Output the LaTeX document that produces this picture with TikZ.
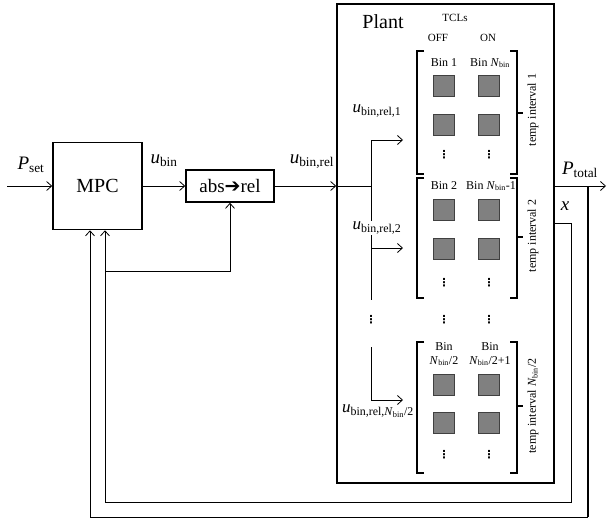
\documentclass[tikz,border=0pt]{standalone}
\usepackage{fontspec}
\setmainfont{Liberation Serif}
\newfontfamily\symfont{DejaVu Sans}
\usetikzlibrary{arrows.meta, positioning}
\newcommand{\sig}[2]{\textit{#1}\textsubscript{#2}}

\begin{document}
\begin{tikzpicture}[x=1pt, y=-1pt,
  block/.style={draw, line width=1.6pt, align=center, inner sep=0pt},
  cell/.style={draw=black!75, fill=black!50, minimum size=21pt, inner sep=0pt, line width=0.7pt},
  arr/.style={-{Straight Barb[length=5pt,width=9pt]}, line width=0.8pt},
  wire/.style={line width=0.8pt},
  brk/.style={line width=2.2pt},
  lbl/.style={font=\fontsize{19}{21}\selectfont, inner sep=1pt},
  small/.style={font=\fontsize{12}{13}\selectfont, inner sep=1pt, align=center},
  tiny/.style={font=\fontsize{11}{12}\selectfont, inner sep=1pt},
  vdot/.style={font=\symfont\fontsize{11}{11}\selectfont\bfseries, inner sep=0pt}
]
  \useasboundingbox (0,0) rectangle (610,520);

  % ----- Blocks -----
  \node[block, minimum width=89pt, minimum height=87pt, font=\fontsize{20}{22}\selectfont] (mpc) at (97.5,186) {MPC};
  \node[block, minimum width=88pt, minimum height=32pt, font=\fontsize{19}{21}\selectfont] (abs) at (230,186) {abs{\symfont\bfseries\fontsize{19}{21}\selectfont ➔}rel};
  \node[block, minimum width=217pt, minimum height=479pt] (plant) at (445.5,243.5) {};
  \node[font=\fontsize{20}{22}\selectfont, inner sep=0pt] (plantlbl) at (383,22) {Plant};

  % ----- Signal labels -----
  \node[lbl] (pset)   at (31,165)  {\sig{P}{set}};
  \node[lbl] (ubin)   at (164,161) {\sig{u}{bin}};
  \node[lbl] (ubrel)  at (312,162) {\sig{u}{bin,rel}};
  \node[lbl] (ptot)   at (580,170) {\sig{P}{total}};
  \node[lbl] (xlbl)   at (565,206) {\textit{x}};

  % ----- TCL header -----
  \node[tiny] (tcls) at (455,18) {TCLs};
  \node[tiny] (off)  at (438,38) {OFF};
  \node[tiny] (on)   at (488,38) {ON};

  % ----- Temperature intervals (brackets) -----
  \foreach \top/\bot/\mid in {51/174/113, 178/298/237, 342/473/406} {
    \draw[brk] (424,\top) -- (417,\top) -- (417,\bot) -- (424,\bot);
    \draw[brk] (510,\top) -- (517,\top) -- (517,\bot) -- (510,\bot);
    \draw[brk] (517,\mid) -- (523,\mid);
  }
  \node[small, rotate=90] (ti1) at (533,110) {temp interval 1};
  \node[small, rotate=90] (ti2) at (533,236) {temp interval 2};
  \node[small, rotate=90] (ti3) at (533,406) {temp interval \sig{N}{bin}/2};

  % ----- Bin headers -----
  \node[small] (h1a) at (444,63)  {Bin 1};
  \node[small] (h1b) at (490,63)  {Bin \sig{N}{bin}};
  \node[small] (h2a) at (444,186) {Bin 2};
  \node[small] (h2b) at (491,186) {Bin \sig{N}{bin}-1};
  \node[small] (h3a) at (444,354) {Bin\\[1pt]\sig{N}{bin}/2};
  \node[small] (h3b) at (490,354) {Bin\\[1pt]\sig{N}{bin}/2+1};

  % ----- Bins -----
  \foreach \g/\ya/\yb/\yd in {1/86/125/155, 2/210/249/283, 3/385/423/455} {
    \node[cell] (sq\g a1) at (444,\ya) {};
    \node[cell] (sq\g b1) at (489,\ya) {};
    \node[cell] (sq\g a2) at (444,\yb) {};
    \node[cell] (sq\g b2) at (489,\yb) {};
    \node[vdot] (dt\g a) at (444,\yd) {⋮};
    \node[vdot] (dt\g b) at (489,\yd) {⋮};
  }
  \node[vdot] (dtma) at (444,320) {⋮};
  \node[vdot] (dtmb) at (489,320) {⋮};
  \node[vdot] (dtms) at (371,320) {⋮};

  % ----- Forward path -----
  \coordinate (pin)  at (7,186);
  \coordinate (pout) at (606,186);
  \coordinate (split) at (371,186);
  \draw[arr] (pin) -- (mpc);
  \draw[arr] (mpc) -- (abs);
  \draw[arr] (abs) -- (plant.west |- abs);
  \draw[wire] (plant.west |- abs) -- (split);
  \draw[arr] (plant.east |- abs) -- (pout);

  % ----- Distribution to intervals -----
  \coordinate (b1) at (371,140);
  \coordinate (b2) at (371,248);
  \coordinate (bend) at (371,300);
  \coordinate (b3top) at (371,347);
  \coordinate (b3) at (371,400);
  \coordinate (t1) at (403,140);
  \coordinate (t2) at (403,248);
  \coordinate (t3) at (403,400);
  \draw[wire] (b1) -- (bend);
  \draw[arr] (b1) -- (t1);
  \draw[arr] (b2) -- (t2);
  \draw[wire] (b3top) -- (b3);
  \draw[arr] (b3) -- (t3);
  \node[lbl, font=\fontsize{17}{19}\selectfont, fill=white] (ur1) at (377,111) {\sig{u}{bin,rel,1}};
  \node[lbl, font=\fontsize{17}{19}\selectfont, fill=white] (ur2) at (377,228) {\sig{u}{bin,rel,2}};
  \node[lbl, font=\fontsize{17}{19}\selectfont] (ur3) at (378,411) {\sig{u}{bin,rel,\sig{N}{bin}/2}};

  % ----- Feedback -----
  \coordinate (tap)  at (588,186);
  \coordinate (oc)   at (588,517);
  \coordinate (fbo)  at (90,517);
  \coordinate (xout) at (plant.east |- 0,223);
  \coordinate (xc)   at (571,502);
  \coordinate (fbi)  at (105,502);
  \coordinate (fbj)  at (105,271);
  \draw[line width=1.6pt] (tap) -- (oc);
  \draw[arr] (oc) -- (fbo) -- (fbo |- mpc.south);
  \draw[arr] (xout) -| (xc) -- (fbi) -- (fbi |- mpc.south);
  \draw[arr] (fbj) -| (abs.south);
\end{tikzpicture}
\end{document}
